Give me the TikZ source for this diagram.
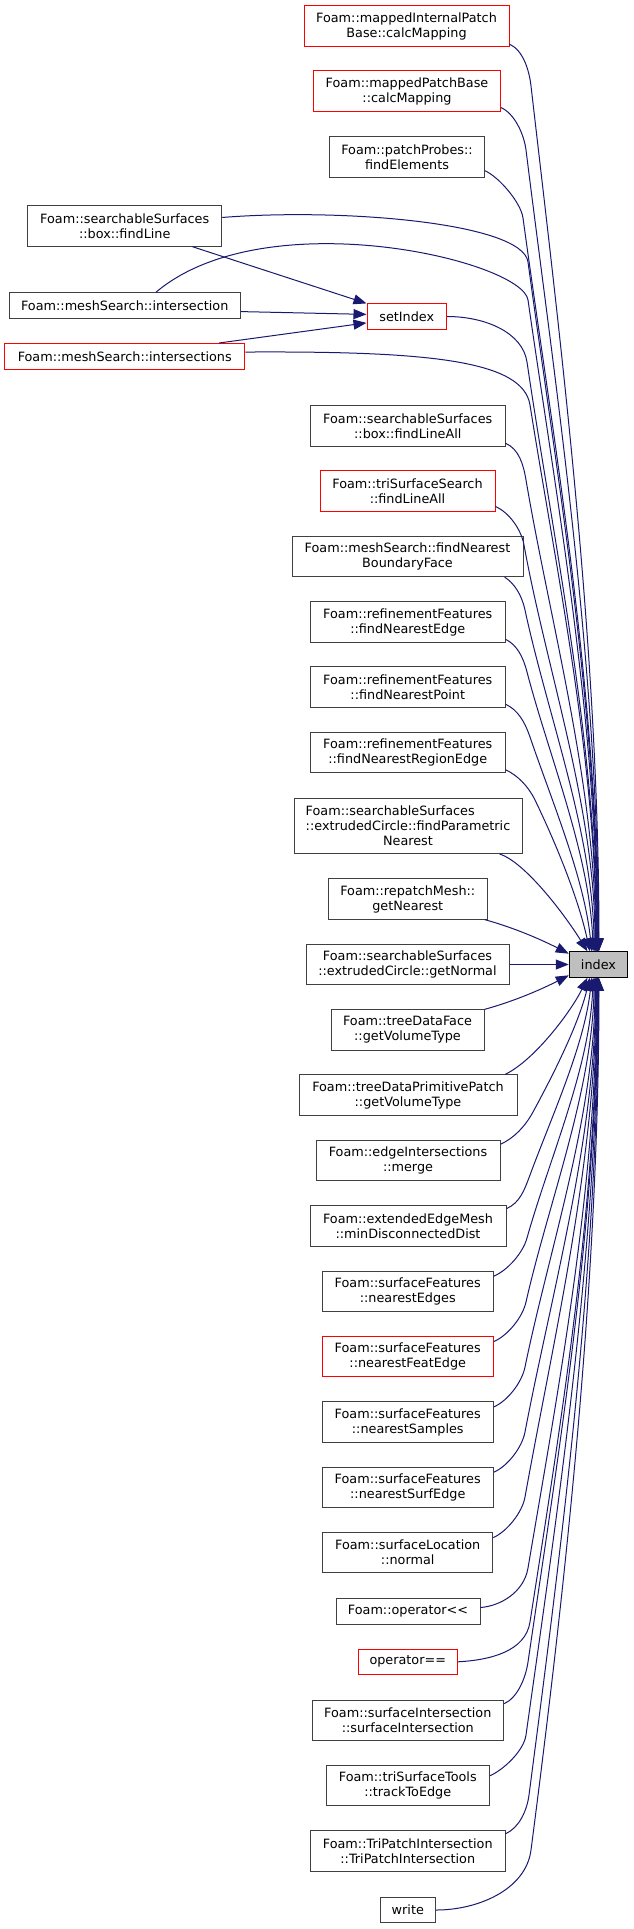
\documentclass[tikz,border=0pt]{standalone}
\usepackage{fontspec}
\setmainfont{DejaVu Sans}
\usepackage{tikz}
\usetikzlibrary{arrows.meta}
\definecolor{callblue}{RGB}{25,25,112}
\definecolor{focusgrey}{RGB}{191,191,191}
\definecolor{framegrey}{RGB}{64,64,64}
\definecolor{truncred}{RGB}{255,0,0}

\begin{document}
\begin{tikzpicture}[x=1pt,y=-1pt,
  fn/.style={draw=framegrey,fill=white,line width=1pt,inner xsep=2pt,inner ysep=0pt,align=center,font=\fontsize{12.8}{15}\selectfont},
  cut/.style={fn,draw=truncred},
  oneline/.style={minimum height=25.5pt},
  twoline/.style={minimum height=40.3pt},
  threeline/.style={minimum height=55pt},
  call/.style={draw=callblue,line width=1pt,-{Triangle[length=13pt,width=10pt,fill=callblue]}}]
\path[use as bounding box] (0,0) rectangle (633,1929);
\path[fill=white,draw=none] (0,0) rectangle (633,1929);
\node[cut,twoline,minimum width=205pt] (mapInt) at (406.5,26) {Foam::mappedInternalPatch\\Base::calcMapping};
\node[cut,twoline,minimum width=187pt] (mapPatch) at (407,91) {Foam::mappedPatchBase\\::calcMapping};
\node[fn,twoline,minimum width=155pt] (probes) at (407,157) {Foam::patchProbes::\\findElements};
\node[fn,twoline,minimum width=194pt] (boxLine) at (124.75,226) {Foam::searchableSurfaces\\::box::findLine};
\node[fn,oneline,minimum width=231.5pt] (isect) at (124.75,305.5) {Foam::meshSearch::intersection};
\node[cut,oneline,minimum width=79.5pt] (setIdx) at (406.75,316.5) {setIndex};
\node[cut,oneline,minimum width=240pt] (isects) at (124.75,356.25) {Foam::meshSearch::intersections};
\node[fn,twoline,minimum width=194.5pt] (boxLineAll) at (407.75,426) {Foam::searchableSurfaces\\::box::findLineAll};
\node[cut,twoline,minimum width=175pt] (triLineAll) at (407.5,491) {Foam::triSurfaceSearch\\::findLineAll};
\node[fn,twoline,minimum width=231pt] (nearBFace) at (407.5,556.5) {Foam::meshSearch::findNearest\\BoundaryFace};
\node[fn,twoline,minimum width=194.5pt] (nearEdge) at (407.75,622) {Foam::refinementFeatures\\::findNearestEdge};
\node[fn,twoline,minimum width=194.5pt] (nearPoint) at (407.75,687) {Foam::refinementFeatures\\::findNearestPoint};
\node[fn,twoline,minimum width=194.5pt] (nearRegion) at (407.75,752.5) {Foam::refinementFeatures\\::findNearestRegionEdge};
\node[fn,threeline,minimum width=228pt] (paramNear) at (408,826) {\rlap{Foam::searchableSurfaces}\phantom{::extrudedCircle::findParametric}\\::extrudedCircle::findParametric\\Nearest};
\node[fn,twoline,minimum width=159.5pt] (getNear) at (407.75,899) {Foam::repatchMesh::\\getNearest};
\node[fn,twoline,minimum width=203pt] (getNormal) at (407.5,964.5) {Foam::searchableSurfaces\\::extrudedCircle::getNormal};
\node[fn,oneline,minimum width=58.5pt,fill=focusgrey,draw=black] (index) at (598.5,964.5) {index};
\node[fn,twoline,minimum width=153pt] (volFace) at (407.5,1030) {Foam::treeDataFace\\::getVolumeType};
\node[fn,twoline,minimum width=218pt] (volPatch) at (408,1095) {Foam::treeDataPrimitivePatch\\::getVolumeType};
\node[fn,twoline,minimum width=184pt] (merge) at (408,1160.5) {Foam::edgeIntersections\\::merge};
\node[fn,twoline,minimum width=196pt] (minDist) at (408,1226) {Foam::extendedEdgeMesh\\::minDisconnectedDist};
\node[fn,twoline,minimum width=171.5pt] (nEdges) at (407.75,1291.3) {Foam::surfaceFeatures\\::nearestEdges};
\node[cut,twoline,minimum width=171.5pt] (nFeatEdge) at (407.75,1356.7) {Foam::surfaceFeatures\\::nearestFeatEdge};
\node[fn,twoline,minimum width=171.5pt] (nSamples) at (407.75,1422) {Foam::surfaceFeatures\\::nearestSamples};
\node[fn,twoline,minimum width=171.5pt] (nSurfEdge) at (407.75,1487.3) {Foam::surfaceFeatures\\::nearestSurfEdge};
\node[fn,twoline,minimum width=170pt] (locNormal) at (407.7,1552.7) {Foam::surfaceLocation\\::normal};
\node[fn,oneline,minimum width=144pt] (opShift) at (408,1611.3) {Foam::operator<\kern0pt<};
\node[cut,oneline,minimum width=99.5pt] (opEq) at (407.75,1661.8) {operator==};
\node[fn,twoline,minimum width=191.6pt] (surfIsect) at (407.8,1720.7) {Foam::surfaceIntersection\\::surfaceIntersection};
\node[fn,twoline,minimum width=163.5pt] (trackEdge) at (407.75,1785.8) {Foam::triSurfaceTools\\::trackToEdge};
\node[fn,twoline,minimum width=194.5pt] (triPatch) at (407.75,1851) {Foam::TriPatchIntersection\\::TriPatchIntersection};
\node[fn,oneline,minimum width=55.6pt] (write) at (407.8,1910) {write};
\draw[call] (boxLine.-17) -- (setIdx.162);
\draw[call] (isect.-3) -- (setIdx.177);
\draw[call] (isects.8) -- (setIdx.-171);
\draw[call] (mapInt.-10) .. controls (523,50.1) and (529.2,70.1) .. (531,86) .. controls (561,345.8) and (598.9,649) .. (index.88);
\draw[call] (mapPatch.-10) .. controls (514.5,113.5) and (524,134.1) .. (526,150) .. controls (556,390.6) and (598.5,671.3) .. (index.90);
\draw[call] (probes.-10) .. controls (498.5,176.7) and (520.8,202.1) .. (523,218) .. controls (553,438.2) and (598.1,695) .. (index.92);
\draw[call] (boxLine.5) .. controls (340,208) and (522.6,222.4) .. (528,262) .. controls (556,469) and (597.6,710.5) .. (index.94);
\draw[call] (isect.23) .. controls (265,200) and (522.3,260.4) .. (528,300) .. controls (556,495.6) and (597.2,724) .. (index.96);
\draw[call] (setIdx.east) .. controls (485,316.5) and (522.6,332.3) .. (527,362) .. controls (553,539) and (596.7,745.5) .. (index.98);
\draw[call] (isects.2) .. controls (430,351) and (523,360.5) .. (530,405) .. controls (556,569) and (596.3,760.5) .. (index.100);
\draw[call] (boxLineAll.-10) .. controls (519,449.1) and (523.3,464.2) .. (526,480) .. controls (550,621.6) and (595.8,787) .. (index.102);
\draw[call] (triLineAll.-10) .. controls (509,512.4) and (521.2,529.3) .. (524,545) .. controls (546,667) and (595.2,809.5) .. (index.105);
\draw[call] (nearBFace.-12) .. controls (514,583) and (521.6,594.4) .. (525,610) .. controls (547,712.6) and (592.4,832.3) .. (index.108);
\draw[call] (nearEdge.-10) .. controls (517,645) and (523,656.5) .. (527,672) .. controls (549,756) and (589.5,854) .. (index.112);
\draw[call] (nearPoint.-10) .. controls (518,710) and (524.8,721.8) .. (530,737) .. controls (552,801.5) and (584,877) .. (index.117);
\draw[call] (nearRegion.-10) .. controls (517,775) and (528,785.6) .. (535,800) .. controls (557,845.6) and (578.4,899) .. (index.123);
\draw[call] (paramNear.-17) .. controls (525,862) and (565,915) .. (index.130);
\draw[call] (getNear.-15) .. controls (515,928) and (542,940) .. (index.160);
\draw[call] (getNormal.east) -- (index.west);
\draw[call] (volFace.15) .. controls (515,1001) and (542,989) .. (index.200);
\draw[call] (volPatch.12) .. controls (535,1060) and (572,1010) .. (index.-130);
\draw[call] (merge.10) .. controls (514,1138.3) and (525.4,1126) .. (533,1112) .. controls (555,1071.5) and (578.4,1024) .. (index.-123);
\draw[call] (minDist.10) .. controls (520,1202.7) and (524.4,1190) .. (530,1175) .. controls (552,1115.6) and (584.1,1046) .. (index.-117);
\draw[call] (nEdges.10) .. controls (507.5,1270.2) and (522.7,1253.4) .. (527,1238) .. controls (549,1159.7) and (589.5,1068.4) .. (index.-112);
\draw[call] (nFeatEdge.10) .. controls (507.5,1335.6) and (522.5,1317.6) .. (526,1302) .. controls (548,1204.5) and (592.4,1090.75) .. (index.-108);
\draw[call] (nSamples.10) .. controls (507.5,1400.9) and (521.8,1382.7) .. (525,1367) .. controls (549,1250) and (595.2,1113.5) .. (index.-105);
\draw[call] (nSurfEdge.10) .. controls (507.5,1466.2) and (522,1447.7) .. (525,1432) .. controls (551,1295.5) and (595.8,1136) .. (index.-102);
\draw[call] (locNormal.10) .. controls (506.7,1531.7) and (522.2,1512.7) .. (525,1497) .. controls (553,1341) and (596.3,1159) .. (index.-100);
\draw[call] (opShift.3) .. controls (500,1606) and (523.8,1592.7) .. (528,1568) .. controls (558,1390.7) and (596.7,1183.9) .. (index.-98);
\draw[call] (opEq.east) .. controls (490,1660) and (525.4,1651.6) .. (530,1622) .. controls (560,1428.5) and (597.2,1202.75) .. (index.-96);
\draw[call] (surfIsect.10) .. controls (517.6,1697.8) and (525.7,1677.8) .. (528,1662) .. controls (558,1456.5) and (597.6,1216.75) .. (index.-94);
\draw[call] (trackEdge.7) .. controls (503.5,1769.8) and (523.8,1750.8) .. (526,1735) .. controls (558,1507.6) and (598.1,1242.3) .. (index.-92);
\draw[call] (triPatch.10) .. controls (519,1827.9) and (526.9,1810.9) .. (529,1795) .. controls (561,1549.6) and (598.5,1263.3) .. (index.-90);
\draw[call] (write.east) .. controls (478,1910) and (525.9,1889.7) .. (531,1850) .. controls (565,1588) and (598.9,1282.5) .. (index.-88);
\end{tikzpicture}
\end{document}
